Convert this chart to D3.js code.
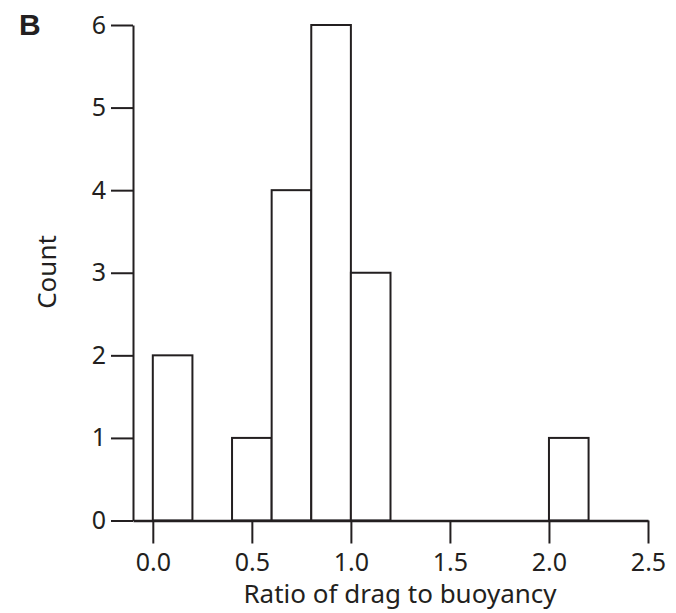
<!DOCTYPE html>
<html><head><meta charset="utf-8">
<script src="https://cdn.jsdelivr.net/npm/d3@7"></script>
<style>body{margin:0;background:#fff}svg{display:block}</style>
</head><body>
<svg id="c" width="676" height="613"></svg>
<script>
const binStarts = [0.0,0.2,0.4,0.6,0.8,1.0,1.2,1.4,1.6,1.8,2.0];
const counts    = [2,0,1,4,6,3,0,0,0,0,1];
const binWidth = 0.2;
const xTicks = [0.0,0.5,1.0,1.5,2.0,2.5];
const yTicks = [0,1,2,3,4,5,6];
const xLabel = "Ratio of drag to buoyancy";
const yLabel = "Count";
const panel = "B";

const svg = d3.select("#c");
const font = "'Noto Sans', 'Open Sans', sans-serif";
const x = d3.scaleLinear().domain([-0.1,2.5]).range([133,648]);
const y = d3.scaleLinear().domain([0,6]).range([520.5,25]);
const col = "#231f20";

// bars
svg.append("g").selectAll("rect").data(binStarts).join("rect")
  .attr("x", d=>x(d)).attr("width", d=>x(d+binWidth)-x(d))
  .attr("y", (d,i)=>y(counts[i])).attr("height",(d,i)=>y(0)-y(counts[i]))
  .attr("fill","#fff").attr("stroke",col).attr("stroke-width",2);

// x axis
const xa = svg.append("g").attr("transform",`translate(0,${y(0)})`)
  .call(d3.axisBottom(x).tickValues(xTicks).tickFormat(d3.format(".1f")).tickSize(23).tickPadding(10).tickSizeOuter(0));
// y axis
const ya = svg.append("g").attr("transform",`translate(${x(-0.1)},0)`)
  .call(d3.axisLeft(y).tickValues(yTicks).tickFormat(d3.format("d")).tickSize(22).tickPadding(5).tickSizeOuter(0));
[xa,ya].forEach(a=>{
  a.selectAll("path,line").attr("stroke",col).attr("stroke-width",2);
  a.selectAll("text").attr("fill",col).style("font-family",font).style("font-size","25px");
});
xa.select(".domain").attr("stroke-width",2.5);

svg.append("text").attr("x",400).attr("y",603).attr("text-anchor","middle")
  .style("font-family",font).style("font-size","26px").attr("fill",col).text(xLabel);
svg.append("text").attr("transform","translate(56,272) rotate(-90)").attr("text-anchor","middle")
  .style("font-family",font).style("font-size","26px").attr("fill",col).text(yLabel);
svg.append("text").attr("x",19).attr("y",35)
  .style("font-family","'Liberation Sans', Arial, sans-serif").style("font-weight","bold").style("font-size","30px").attr("fill",col).text(panel);
</script>
</body></html>
